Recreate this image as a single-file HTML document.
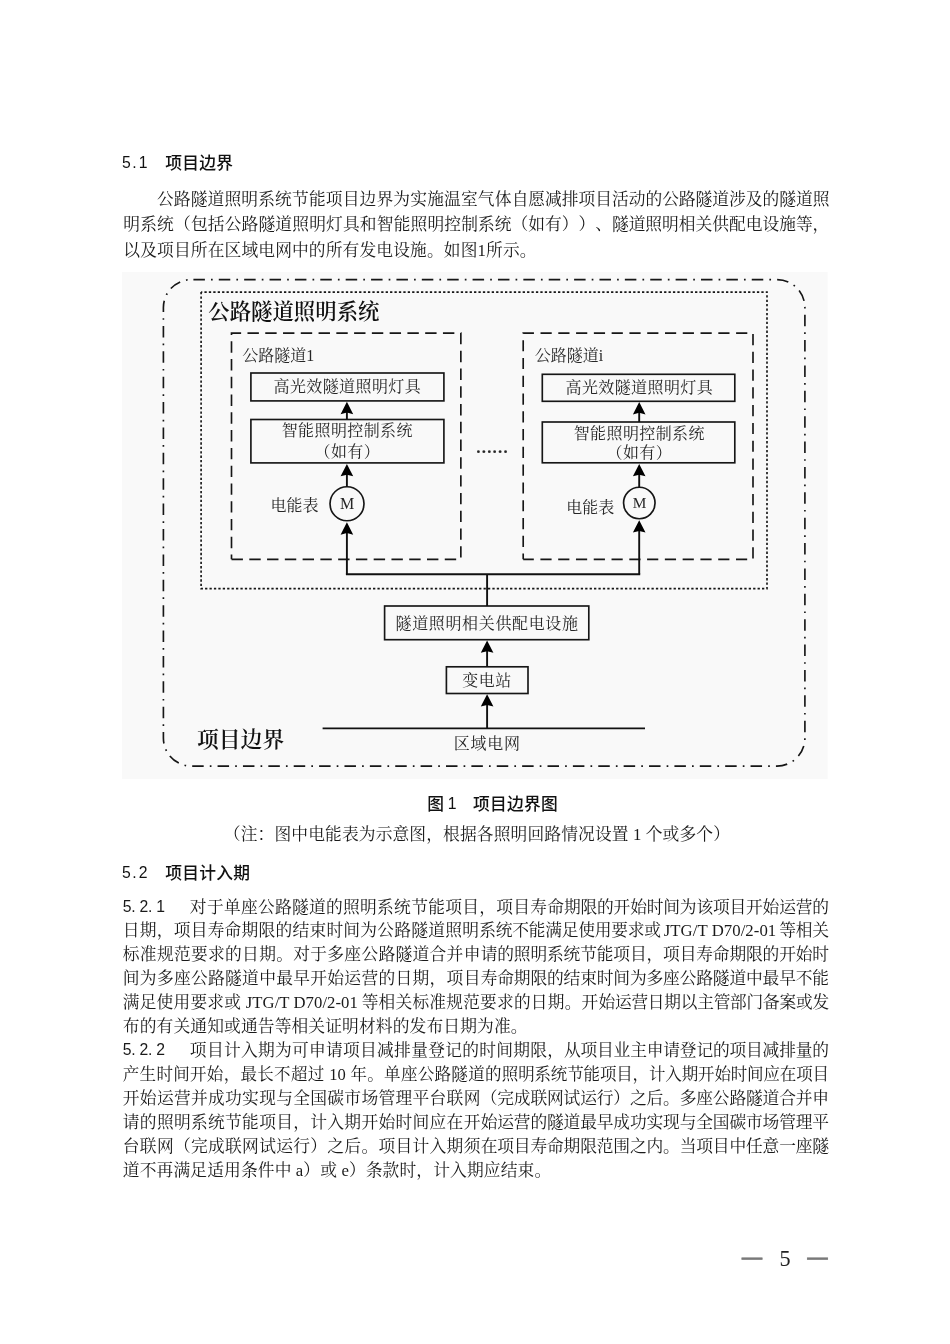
<!DOCTYPE html>
<html lang="zh-CN"><head><meta charset="utf-8"><title>项目边界</title>
<style>
html,body{margin:0;padding:0;background:#fff;}
body{width:950px;height:1344px;position:relative;overflow:hidden;color:#1a1a1a;
 font-family:"Liberation Serif","Noto Serif CJK SC",serif;font-size:16.76px;}
.ln{position:absolute;left:122px;width:706px;height:24px;line-height:24px;white-space:nowrap;
 font-family:"Liberation Serif","Noto Serif CJK SC",serif;font-weight:400;text-spacing-trim:space-all;}
.ln.j{text-align:justify;text-align-last:justify;white-space:nowrap;}
.ln{margin-top:2px;}
.ln.hd,.ln.pn{margin-top:0;}
.ln.ctr{text-align:center;}
.ln.n{letter-spacing:0.12px;}
.ln .a{letter-spacing:0.2px;}
.ln .b{letter-spacing:-0.26px;}
.ln.p1 .a{letter-spacing:0.08px;}
.ln.p1 .b{letter-spacing:-0.09px;}
.ln.hd{font-family:"Liberation Sans","Noto Sans CJK SC",sans-serif;font-weight:500;color:#111;letter-spacing:0.25px;}
.ln.hd i.h{font-weight:400;letter-spacing:0;}
.ln.pn{left:0;width:950px;font-family:"Liberation Serif",serif;font-size:22.2px;color:#222;}
.pn .d{position:absolute;top:-1.3px;font-size:20px;color:#7a7a7a;font-weight:700;-webkit-text-stroke:0.8px #7a7a7a;}
.pn .pg{position:absolute;left:779.4px;top:1.2px;}
.en{font-family:"Liberation Serif",serif;}
.ln .en{letter-spacing:0.05px;}
i.h{display:inline-block;width:8.38px;font-size:0.94em;position:relative;top:-0.9px;text-align:center;font-style:normal;font-family:"Liberation Sans",sans-serif;}
.s{display:inline-block;width:3px;}
.ind{display:inline-block;width:2em;}
.gap{display:inline-block;width:18.2px;}
.gap2{display:inline-block;width:1.5em;}
svg.fig{position:absolute;left:0;top:0;filter:blur(0.35px);}
#pg{position:absolute;left:0;top:0;width:950px;height:1344px;will-change:transform;}
.ft text{font-family:"Liberation Serif","Noto Serif CJK SC",serif;font-size:16px;}
.ft text.sp{letter-spacing:0.4px;}
.ft text.big{font-family:"Liberation Serif","Noto Serif CJK SC",serif;font-weight:600;font-size:21.4px;fill:#111;}
.ft .en{font-family:"Liberation Serif",serif;}
.ln .en{letter-spacing:0.05px;}
</style></head>
<body>
<div id="pg">
<svg class="fig" width="950" height="1344" viewBox="0 0 950 1344">
<rect x="122" y="272" width="705.6" height="507" fill="#f9f9f9"/>
<g fill="none" stroke="#161616" stroke-width="1.65">
<rect x="163.4" y="279.55" width="641.5" height="486.55" rx="28" ry="28" stroke-dasharray="11.5 6.1 1.68 6.1" stroke-dashoffset="23.38"/>
<rect x="201.1" y="292.05" width="565.9" height="296.6" stroke-dasharray="2.3 2.12" stroke-dashoffset="1.1"/>
<path d="M231.5 559.3V333.1H460.85V559.3H231.5" stroke-dasharray="11.4 6.37" stroke-dashoffset="6.6"/>
<path d="M523.2 559.3V333.1H753.0V559.3H523.2" stroke-dasharray="11.2 6.58" stroke-dashoffset="5.4"/>
<rect x="250.90" y="373.00" width="193.00" height="27.90"/>
<rect x="250.90" y="419.50" width="193.00" height="43.40"/>
<rect x="542.30" y="374.30" width="192.50" height="27.00"/>
<rect x="542.30" y="422.00" width="192.50" height="40.80"/>
<rect x="384.60" y="606.00" width="204.20" height="33.70"/>
<rect x="446.40" y="666.80" width="81.60" height="26.70"/>
<circle cx="347.0" cy="503.75" r="17"/>
<circle cx="639.3" cy="502.95" r="15.75"/>
</g>
<g fill="none" stroke="#111" stroke-width="1.9">
<path d="M346.9 412V419.5 M346.9 474V486.8 M346.9 532V574.2"/>
<path d="M639.2 412V422 M639.2 474V487.3 M639.2 530V574.2"/>
<path d="M345.9 574.2H640.2 M487.1 574.2V606 M487.1 650V666.8 M487.1 704V728.4 M322.6 728.4H645"/>
</g>
<g fill="#000">
<path d="M346.90 401.80L353.20 414.20L346.90 412.60L340.60 414.20Z"/>
<path d="M346.90 463.90L353.20 476.30L346.90 474.70L340.60 476.30Z"/>
<path d="M346.90 522.30L353.20 534.70L346.90 533.10L340.60 534.70Z"/>
<path d="M639.20 402.00L645.50 414.40L639.20 412.80L632.90 414.40Z"/>
<path d="M639.20 463.90L645.50 476.30L639.20 474.70L632.90 476.30Z"/>
<path d="M639.20 520.20L645.50 532.60L639.20 531.00L632.90 532.60Z"/>
<path d="M487.10 640.40L493.40 652.80L487.10 651.20L480.80 652.80Z"/>
<path d="M487.10 694.20L493.40 706.60L487.10 705.00L480.80 706.60Z"/>
</g>
<g class="ft" fill="#262626">
<text x="208.3" y="319" class="big">公路隧道照明系统</text>
<text x="197" y="746.6" class="big" style="font-size:21.8px">项目边界</text>
<text x="242.3" y="360.6">公路隧道<tspan class="en">1</tspan></text>
<text x="534.8" y="360.6">公路隧道<tspan class="en">i</tspan></text>
<text x="347.3" y="392" text-anchor="middle" class="sp">高光效隧道照明灯具</text>
<text x="347.3" y="436.1" text-anchor="middle" class="sp">智能照明控制系统</text>
<text x="347.3" y="457.3" text-anchor="middle" class="sp">（如有）</text>
<text x="639.3" y="393.4" text-anchor="middle" class="sp">高光效隧道照明灯具</text>
<text x="639.3" y="438.8" text-anchor="middle" class="sp">智能照明控制系统</text>
<text x="639.3" y="457.7" text-anchor="middle" class="sp">（如有）</text>
<text x="347.0" y="509.1" text-anchor="middle" class="en" style="font-size:16px">M</text>
<text x="639.5" y="508.1" text-anchor="middle" class="en" style="font-size:15.3px">M</text>
<text x="270.6" y="511.4">电能表</text>
<text x="566.2" y="512.5">电能表</text>
<text x="487.1" y="628.9" text-anchor="middle" style="letter-spacing:0.65px">隧道照明相关供配电设施</text>
<text x="487.1" y="685.7" text-anchor="middle" style="letter-spacing:0.5px">变电站</text>
<text x="487.3" y="749.1" text-anchor="middle" style="letter-spacing:0.8px">区域电网</text>
<text x="475.7" y="453.4" style="font-size:16.2px;font-weight:700;stroke:#1a1a1a;stroke-width:0.15px">……</text>
</g>
</svg>
<div class="ln hd" style="top:151.80px;"><i class="h">5</i><i class="h">.</i><i class="h">1</i><span class="gap"></span>项目边界</div>
<div class="ln j p1" style="top:186.20px;left:123.3px;"><span class="a"><span class="ind"></span>公路隧道照明系统节能项目边界为实施温室气体</span><span class="b">自愿减排项目活动的公路隧道涉及的隧道照</span></div>
<div class="ln j p1" style="top:211.20px;left:123.3px;"><span class="a">明系统（包括公路隧道照明灯具和智能照明控制</span><span class="b">系统（如有））、隧道照明相关供配电设施等，</span></div>
<div class="ln n p1" style="top:236.50px;left:123.3px;">以及项目所在区域电网中的所有发电设施。如图<span class="en">1</span>所示。</div>
<div class="ln hd" style="top:792.60px;left:427.2px;">图<span style="display:inline-block;width:3.6px"></span><i class="h">1</i><span class="gap" style="width:16.8px"></span>项目边界图</div>
<div class="ln n" style="top:821.00px;left:223.8px;">（注：图中电能表为示意图，根据各照明回路情况设置 <span class="en">1</span> 个或多个）</div>
<div class="ln hd" style="top:861.90px;"><i class="h">5</i><i class="h">.</i><i class="h">2</i><span class="gap"></span>项目计入期</div>
<div class="ln j" style="top:893.50px;left:122.8px;"><span class="a"><i class="h">5</i><i class="h">.</i><i class="h">2</i><i class="h">.</i><i class="h">1</i><span class="gap2"></span>对于单座公路隧道的照明系统节能项目，项目寿</span><span class="b">命期限的开始时间为该项目开始运营的</span></div>
<div class="ln j" style="top:917.45px;left:122.8px;"><span class="a">日期，项目寿命期限的结束时间为公路隧道照明</span><span class="b">系统不能满足使用要求或<span class="s"></span><span class="en">JTG/T D70/2-01</span><span class="s"></span>等相关</span></div>
<div class="ln j" style="top:941.40px;left:122.8px;"><span class="a">标准规范要求的日期。对于多座公路隧道合并申</span><span class="b">请的照明系统节能项目，项目寿命期限的开始时</span></div>
<div class="ln j" style="top:965.35px;left:122.8px;"><span class="a">间为多座公路隧道中最早开始运营的日期，项目</span><span class="b">寿命期限的结束时间为多座公路隧道中最早不能</span></div>
<div class="ln j" style="top:989.30px;left:122.8px;font-size:16.68px;"><span class="a">满足使用要求或<span class="s" style="width:4.6px"></span><span class="en">JTG/T D70/2-01</span><span class="s" style="width:3.8px"></span>等相关标准规范要求的日期。开</span><span class="b">始运营日期以主管部门备案或发</span></div>
<div class="ln n" style="top:1013.25px;left:122.8px;">布的有关通知或通告等相关证明材料的发布日期为准。</div>
<div class="ln j" style="top:1037.20px;left:122.8px;"><span class="a"><i class="h">5</i><i class="h">.</i><i class="h">2</i><i class="h">.</i><i class="h">2</i><span class="gap2"></span>项目计入期为可申请项目减排量登记的时间期限</span><span class="b">，从项目业主申请登记的项目减排量的</span></div>
<div class="ln j" style="top:1061.15px;left:122.8px;font-size:16.55px;"><span class="a">产生时间开始，最长不超过<span class="s" style="width:4.6px"></span><span class="en">10</span><span class="s" style="width:4.6px"></span>年。单座公路隧道的</span><span class="b">照明系统节能项目，计入期开始时间应在项目</span></div>
<div class="ln j" style="top:1085.10px;left:122.8px;"><span class="a">开始运营并成功实现与全国碳市场管理平台联网</span><span class="b">（完成联网试运行）之后。多座公路隧道合并申</span></div>
<div class="ln j" style="top:1109.05px;left:122.8px;"><span class="a">请的照明系统节能项目，计入期开始时间应在开</span><span class="b">始运营的隧道最早成功实现与全国碳市场管理平</span></div>
<div class="ln j" style="top:1133.00px;left:122.8px;"><span class="a">台联网（完成联网试运行）之后。项目计入期须</span><span class="b">在项目寿命期限范围之内。当项目中任意一座隧</span></div>
<div class="ln n" style="top:1156.95px;left:122.8px;">道不再满足适用条件中 <span class="en">a</span>）或 <span class="en">e</span>）条款时，计入期应结束。</div>
<div class="ln pn" style="top:1246.00px;"><b class="d" style="left:742px">—</b><span class="pg">5</span><b class="d" style="left:807.6px">—</b></div>
</div>
</body></html>
